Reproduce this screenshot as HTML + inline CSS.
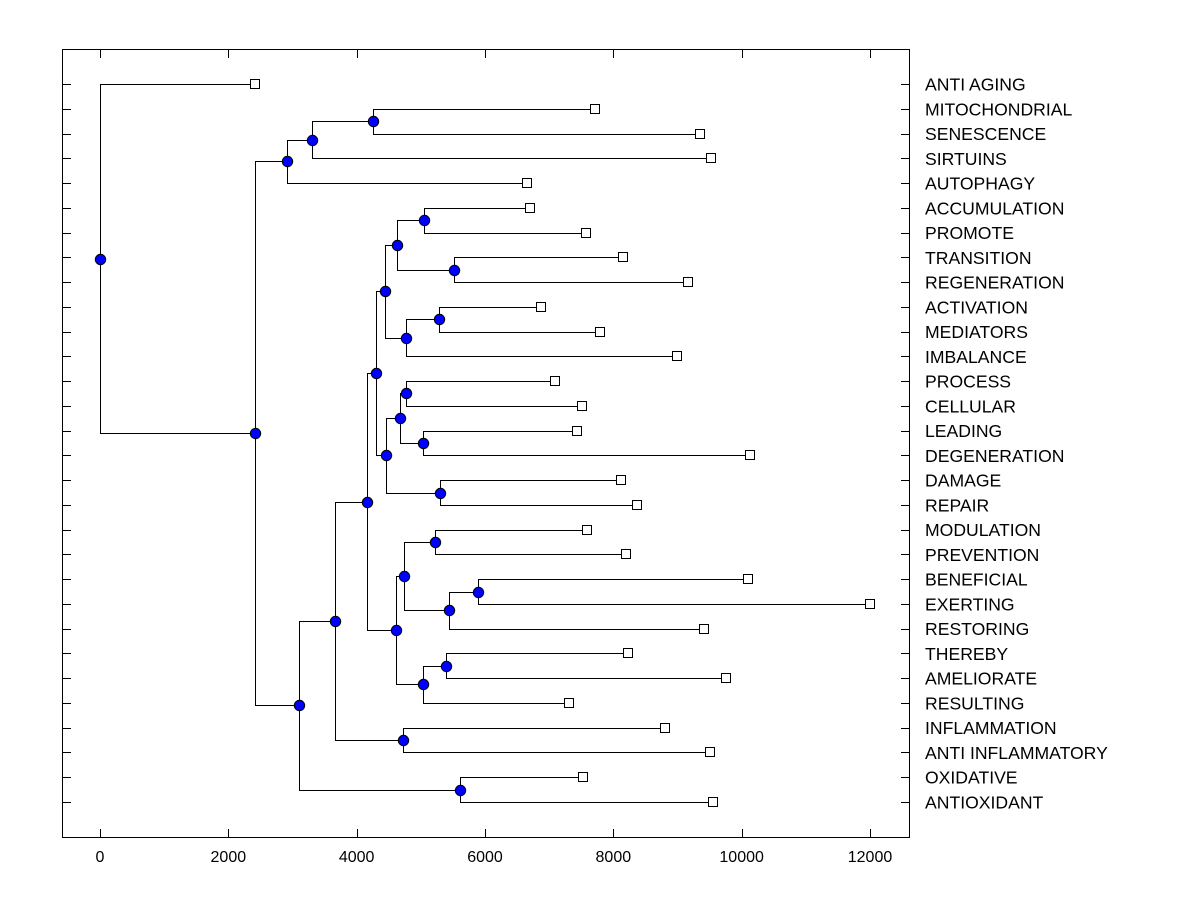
<!DOCTYPE html>
<html><head><meta charset="utf-8">
<style>
html,body{margin:0;padding:0;background:#fff;}
svg{display:block;font-family:"Liberation Sans",Arial,sans-serif;}
</style></head>
<body>
<svg id="chart" width="1200" height="900">
  <rect x="62.5" y="49.5" width="847" height="788" fill="none" stroke="#000" stroke-width="1"/>
  <g id="axes"></g>
  <g id="links"></g>
  <g id="marks"></g>
</svg>
<script>
const leafLabels = ["ANTI AGING","MITOCHONDRIAL","SENESCENCE","SIRTUINS","AUTOPHAGY","ACCUMULATION","PROMOTE","TRANSITION","REGENERATION","ACTIVATION","MEDIATORS","IMBALANCE","PROCESS","CELLULAR","LEADING","DEGENERATION","DAMAGE","REPAIR","MODULATION","PREVENTION","BENEFICIAL","EXERTING","RESTORING","THEREBY","AMELIORATE","RESULTING","INFLAMMATION","ANTI INFLAMMATORY","OXIDATIVE","ANTIOXIDANT"];
const leafValues = [2416,7714,9351,9522,6655,6701,7574,8151,9164,6873,7792,8992,7091,7512,7434,10130,8120,8369,7590,8197,10099,12000,9413,8229,9756,7309,8805,9506,7527,9553];
// merges: children refer to leaves as "L#" and prior merges as "N#"
const mergeLeft  = ["L1","N0","N1","L5","L7","N3","L9","N6","N5","L12","L14","N9","L16","N11","N8","L18","L20","N16","N15","L23","N19","N18","N14","L26","N22","L28","N24","N2","L0"];
const mergeRight = ["L2","L3","L4","L6","L8","N4","L10","L11","N7","L13","L15","N10","L17","N12","N13","L19","L21","L22","N17","L24","L25","N20","N21","L27","N23","L29","N25","N26","N27"];
const mergeHeights = [4255,3304,2914,5049,5517,4629,5283,4769,4442,4769,5034,4675,5299,4457,4301,5221,5891,5439,4738,5392,5034,4613,4161,4722,3662,5610,3101,2416,0];
const xTicks = [0,2000,4000,6000,8000,10000,12000];

const X0=100, XS=770/12000;
const xs = v => X0 + v*XS;
const ys = i => 84 + i*(802-84)/29;
const NS="http://www.w3.org/2000/svg";
function mk(tag, attrs, parent){const e=document.createElementNS(NS,tag);for(const k in attrs)e.setAttribute(k,attrs[k]);parent.appendChild(e);return e;}
const axes=document.getElementById('axes'), links=document.getElementById('links'), marks=document.getElementById('marks');

xTicks.forEach(t=>{
  const x=Math.round(xs(t))+0.5;
  const l=mk('line',{x1:x,x2:x,y1:837,y2:829,stroke:'#000'},axes);
  
  
  const l2=mk('line',{x1:x,x2:x,y1:50,y2:58,stroke:'#000'},axes);
  
  
  const tx=mk('text',{x:xs(t),y:862,'text-anchor':'middle','font-size':16,fill:'#000'},axes);
  tx.textContent=t;
  
  
});
leafLabels.forEach((lab,i)=>{
  const y=Math.round(ys(i))+0.5;
  const a=mk('line',{x1:62,x2:71,y1:y,y2:y,stroke:'#000'},axes);
  
  
  const b=mk('line',{x1:901,x2:909,y1:y,y2:y,stroke:'#000'},axes);
  
  
  const t=mk('text',{x:925,y:ys(i)+6.5,'font-size':17.6,fill:'#000'},axes);
  t.textContent=lab;
  
  
});

const nodes={};
leafLabels.forEach((l,i)=>{nodes['L'+i]={x:leafValues[i],y:ys(i)};});
function link(p,c){
  const px=Math.round(xs(p.x))+0.5, cx=Math.round(xs(c.x))+0.5, cy=Math.round(c.y)+0.5, py=Math.round(p.y)+0.5;
  const pl=mk('polyline',{points:`${px},${py} ${px},${cy} ${cx},${cy}`,fill:'none',stroke:'#000','stroke-width':1},links);
  
  
}
const internal=[];
mergeHeights.forEach((h,k)=>{
  const a=nodes[mergeLeft[k]], b=nodes[mergeRight[k]];
  const n={x:h,y:(a.y+b.y)/2};
  link(n,a);link(n,b);internal.push(n);
  nodes['N'+k]=n;
});

leafLabels.forEach((l,i)=>{
  const n=nodes['L'+i];
  const r=mk('rect',{x:Math.round(xs(n.x))-4.5,y:Math.round(n.y)-4.5,width:9,height:9,fill:'#fff',stroke:'#000'},marks);
  
  
});
internal.forEach(n=>{
  const c=mk('circle',{cx:Math.round(xs(n.x))+0.5,cy:Math.round(n.y)+0.5,r:5.2,fill:'#0000ff',stroke:'#000','stroke-width':1},marks);
  
  
});
</script>
</body></html>
